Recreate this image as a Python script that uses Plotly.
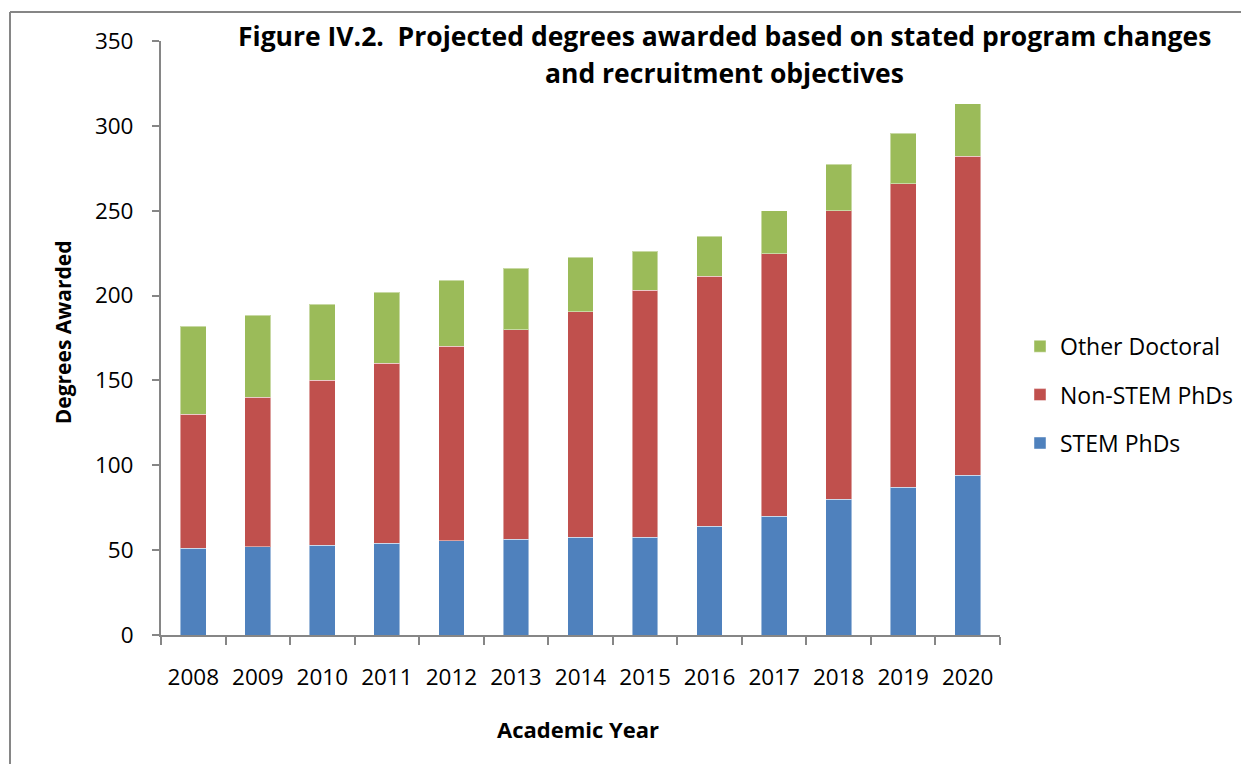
import plotly.graph_objects as go

years = ["2008", "2009", "2010", "2011", "2012", "2013", "2014",
         "2015", "2016", "2017", "2018", "2019", "2020"]
stem_phds = [51, 52, 53, 54, 55.5, 56.5, 57.5, 57.5, 64, 70, 80, 87, 94]
non_stem_phds = [79, 88, 97, 106, 114.5, 123.5, 133, 145.5, 147.5, 154.5, 170, 179, 188]
other_doctoral = [52, 48.5, 45, 42, 39, 36, 32, 23, 23.5, 25.5, 27.5, 29.5, 31]
y_ticks = [0, 50, 100, 150, 200, 250, 300, 350]

FONT = "Open Sans"
AXIS_COLOR = "#868686"

# page is rendered with an 8px body margin; figure sized so no scrollbars appear
W, H = 1233, 756
OFF = 8
PL, PR, PT, PB = 161, 1000, 41, 635.5  # plot area in page pixels
PW, PH = PR - PL, PB - PT


def px(xp):
    return (xp - PL) / PW


def py(yp):
    return (PB - yp) / PH


fig = go.Figure()
for name, vals, color, rank in [
    ("STEM PhDs", stem_phds, "#4F81BD", 3),
    ("Non-STEM PhDs", non_stem_phds, "#C0504D", 2),
    ("Other Doctoral", other_doctoral, "#9BBB59", 1),
]:
    fig.add_trace(go.Bar(
        x=years, y=vals, name=name, legendgroup=name, legendrank=rank,
        marker=dict(color=color, line=dict(color="rgba(255,255,255,0.45)", width=1)),
    ))

fig.update_layout(
    barmode="stack",
    bargap=0.6,
    width=W, height=H,
    margin=dict(l=PL - OFF, r=W - (PR - OFF), t=PT - OFF, b=H - (PB - OFF), autoexpand=False),
    paper_bgcolor="white",
    plot_bgcolor="white",
    font=dict(family=FONT, size=22, color="black"),
    showlegend=True,
    legend=dict(
        x=px(1020), y=py(325), xanchor="left", yanchor="top",
        traceorder="grouped",
        font=dict(family=FONT, size=23, color="black"),
        tracegroupgap=15.5,
        itemwidth=30,
        bgcolor="rgba(0,0,0,0)",
    ),
    xaxis=dict(
        type="category",
        showline=True, linecolor=AXIS_COLOR, linewidth=2,
        ticks="outside", tickson="boundaries", ticklen=8, tickcolor=AXIS_COLOR, tickwidth=1.5,
        showgrid=False, zeroline=False,
        tickfont=dict(family=FONT, size=22.5, color="black"),
        ticklabelstandoff=21,
    ),
    yaxis=dict(
        range=[0, 350],
        tickvals=y_ticks,
        showline=True, linecolor=AXIS_COLOR, linewidth=2,
        ticks="outside", ticklen=7, tickcolor=AXIS_COLOR, tickwidth=1.5,
        showgrid=False, zeroline=False,
        tickfont=dict(family=FONT, size=22.5, color="black"),
        ticklabelstandoff=14,
    ),
    annotations=[
        dict(text="<b>Figure IV.2.  Projected degrees awarded based on stated program changes</b>",
             xref="paper", yref="paper", x=px(724), y=py(36),
             xanchor="center", yanchor="middle", showarrow=False,
             font=dict(family=FONT, size=26.5, color="black")),
        dict(text="<b>and recruitment objectives</b>",
             xref="paper", yref="paper", x=px(724), y=py(73),
             xanchor="center", yanchor="middle", showarrow=False,
             font=dict(family=FONT, size=26.5, color="black")),
        dict(text="<b>Academic Year</b>",
             xref="paper", yref="paper", x=px(578), y=py(730),
             xanchor="center", yanchor="middle", showarrow=False,
             font=dict(family=FONT, size=22, color="black")),
        dict(text="<b>Degrees Awarded</b>", textangle=-90,
             xref="paper", yref="paper", x=px(62.5), y=py(333),
             xanchor="center", yanchor="middle", showarrow=False,
             font=dict(family=FONT, size=21, color="black")),
    ],
    shapes=[
        dict(type="line", xref="paper", yref="paper",
             x0=px(10), x1=px(1270), y0=py(12), y1=py(12),
             line=dict(color=AXIS_COLOR, width=2)),
        dict(type="line", xref="paper", yref="paper",
             x0=px(10), x1=px(10), y0=py(12), y1=py(800),
             line=dict(color=AXIS_COLOR, width=2)),
    ],
)

fig.write_html("out.html")
